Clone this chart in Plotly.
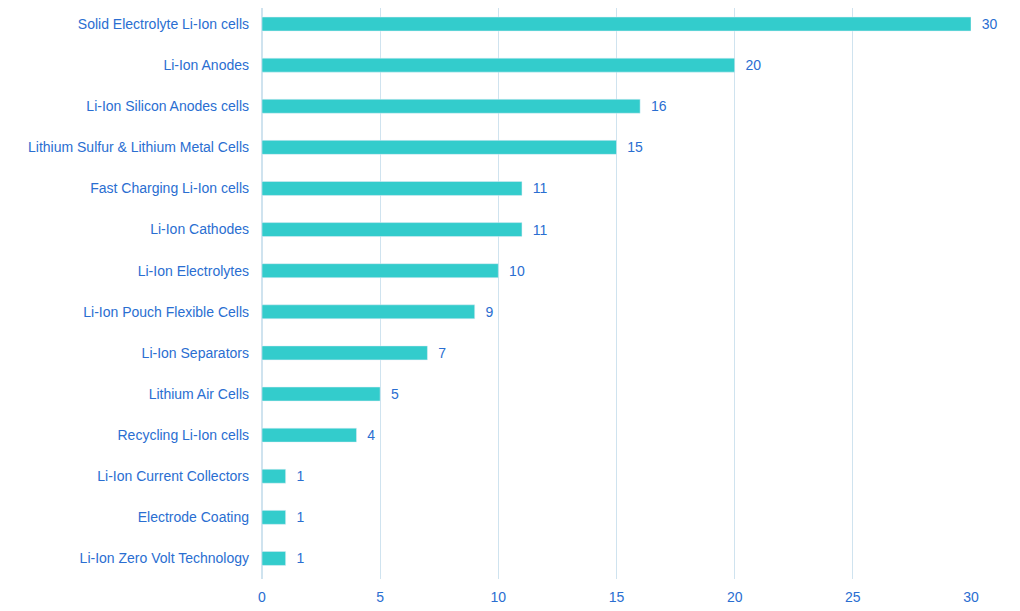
import plotly.graph_objects as go

categories = [
    "Solid Electrolyte Li-Ion cells", "Li-Ion Anodes", "Li-Ion Silicon Anodes cells",
    "Lithium Sulfur & Lithium Metal Cells", "Fast Charging Li-Ion cells", "Li-Ion Cathodes",
    "Li-Ion Electrolytes", "Li-Ion Pouch Flexible Cells", "Li-Ion Separators",
    "Lithium Air Cells", "Recycling Li-Ion cells", "Li-Ion Current Collectors",
    "Electrode Coating", "Li-Ion Zero Volt Technology",
]
values = [30, 20, 16, 15, 11, 11, 10, 9, 7, 5, 4, 1, 1, 1]

BLUE = "#2a6ed1"

fig = go.Figure(go.Bar(
    x=values, y=categories, orientation="h",
    marker_color="#33cccc",
    text=["  " + str(v) for v in values], textposition="outside", cliponaxis=False,
    constraintext="none",
    textfont=dict(color=BLUE, size=14),
))
fig.update_layout(
    width=1020, height=611,
    margin=dict(l=254, r=57, t=0, b=40),
    paper_bgcolor="white", plot_bgcolor="white",
    font=dict(family="Liberation Sans, Arial", size=14, color=BLUE),
    bargap=0.66, showlegend=False,
)
fig.update_yaxes(range=[13.5, -0.39], ticks="", ticklabelstandoff=12,
                 showgrid=False, zeroline=False)
fig.update_xaxes(range=[0, 30], dtick=5, showgrid=True, gridcolor="#cfe3ef",
                 zeroline=True, zerolinecolor="#cfe3ef", ticks="", ticklabelstandoff=8)
fig.write_html("out.html")
